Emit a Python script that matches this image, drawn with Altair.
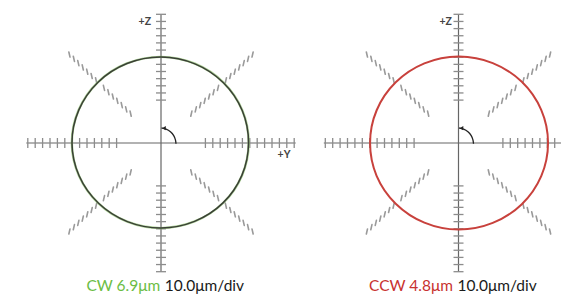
import altair as alt
import pandas as pd
import numpy as np

# ---------------- data (in divisions, 1 div = 10.0 µm) ----------------
result_labels = ["CW 6.9μm", "CCW 4.8μm"]
result_colors = ["#6cbd45", "#c8322f"]
scale_label = "10.0μm/div"

trace_angles = [0, 22.5, 45, 67.5, 90, 112.5, 135, 157.5,
                180, 202.5, 225, 247.5, 270, 292.5, 315, 337.5]
cw_radii = [11.85, 11.9, 11.95, 12.0, 12.05, 12.05, 12.05, 12.05,
            12.05, 12.0, 11.95, 11.92, 11.9, 11.88, 11.87, 11.85]
cw_radii_dark = [11.83, 11.88, 11.93, 11.98, 12.03, 12.03, 12.03, 12.03,
                 12.03, 11.98, 11.93, 11.9, 11.88, 11.86, 11.85, 11.83]
ccw_radii = [12.1, 12.1, 12.1, 12.1, 12.1, 12.05, 12.0, 11.97,
             11.95, 11.98, 12.0, 12.05, 12.1, 12.1, 12.1, 12.1]

axis_tick_r = [6, 7, 8, 9, 10, 11, 12, 13, 14, 15, 16, 17, 18]
diag_inner_r = [5.8, 6.65, 7.5, 8.35, 9.2, 10.05, 10.9]
diag_outer_r = [12.4, 13.25, 14.1, 14.95, 15.8, 16.65, 17.5]
diag_dirs = [45, 135, 225, 315]
axis_len = 18.2

# ---------------- geometry helpers ----------------
PX_X = 7.4   # pixels per division, horizontal
PX_Y = 7.15  # pixels per division, vertical
H = 286

def build_panel(idx, width, center_px, radii_sets, show_y, zx, cap_shift):
    xdom = [-center_px / PX_X, (width - center_px) / PX_X]
    ydom = [-(H - 135) / PX_Y, 135 / PX_Y]
    xs = alt.Scale(domain=xdom, nice=False, zero=False)
    ys = alt.Scale(domain=ydom, nice=False, zero=False)
    X = lambda f="x": alt.X(f"{f}:Q", scale=xs, axis=None)
    Y = lambda f="y": alt.Y(f"{f}:Q", scale=ys, axis=None)

    # main axes
    axes = pd.DataFrame({"x": [-axis_len, 0], "x2": [axis_len, 0],
                         "y": [0, -18], "y2": [0, 18]})
    axis_layer = alt.Chart(axes).mark_rule(color="#666", strokeWidth=1.2, clip=True).encode(
        x=X(), x2="x2:Q", y=Y(), y2="y2:Q")

    # axis ticks
    rows = []
    hx = 5 / PX_X
    hy = 5 / PX_Y
    for r in axis_tick_r:
        for s in (-1, 1):
            rows.append({"x": s * r, "x2": s * r, "y": -hy, "y2": hy})
            rows.append({"x": -hx, "x2": hx, "y": s * r, "y2": s * r})
    ticks = pd.DataFrame(rows)
    tick_layer = alt.Chart(ticks).mark_rule(color="#8c8c8c", strokeWidth=1.3, clip=True).encode(
        x=X(), x2="x2:Q", y=Y(), y2="y2:Q")

    # diagonal ticks
    drows = []
    for d in diag_dirs:
        th = np.radians(d)
        tilt = 32 if d in (45, 225) else -32
        st = np.radians(d + tilt)
        for r in diag_inner_r + diag_outer_r:
            cx, cy = r * np.cos(th), r * np.sin(th)
            dx = 2.6 * np.cos(st) / PX_X
            dy = 2.6 * np.sin(st) / PX_Y
            drows.append({"x": cx - dx, "x2": cx + dx, "y": cy - dy, "y2": cy + dy})
    dticks = pd.DataFrame(drows)
    dtick_layer = alt.Chart(dticks).mark_rule(color="#9a9a9a", strokeWidth=1.6,
                                              strokeCap="round", clip=True).encode(
        x=X(), x2="x2:Q", y=Y(), y2="y2:Q")

    layers = [axis_layer, tick_layer, dtick_layer]

    # traces
    for radii, color, w, op in radii_sets:
        a = np.radians(trace_angles)
        df = pd.DataFrame({"x": np.array(radii) * np.cos(a),
                           "y": np.array(radii) * np.sin(a),
                           "o": range(len(radii))})
        layers.append(alt.Chart(df).mark_line(
            interpolate="cardinal-closed", color=color, strokeWidth=w, opacity=op).encode(
            x=X(), y=Y(), order="o:Q"))

    # rotation arrow
    arc_deg = [88, 70, 50, 30, 12, -3]
    arc = pd.DataFrame({"x": [15 * np.cos(np.radians(t)) / PX_X for t in arc_deg],
                        "y": [15 * np.sin(np.radians(t)) / PX_Y for t in arc_deg],
                        "o": range(len(arc_deg))})
    layers.append(alt.Chart(arc).mark_line(interpolate="basis", color="#222", strokeWidth=1.3).encode(
        x=X(), y=Y(), order="o:Q"))
    head = pd.DataFrame({"x": [0.4], "y": [2.07]})
    layers.append(alt.Chart(head).mark_point(shape="triangle-left", filled=True, size=18,
                                             color="#222", opacity=1).encode(x=X(), y=Y()))

    # axis labels
    lab = [{"x": zx, "y": 16.9, "t": "+Z"}]
    if show_y:
        lab.append({"x": 17.5, "y": -1.7, "t": "+Y"})
    labs = pd.DataFrame(lab)
    layers.append(alt.Chart(labs).mark_text(font="Lato", fontWeight="bold", fontSize=10.5,
                                            color="#444", align="right", baseline="middle").encode(
        x=X(), y=Y(), text="t:N"))

    # caption
    cap1 = pd.DataFrame({"x": [-0.45 + cap_shift], "y": [-20.7], "t": [result_labels[idx]]})
    cap2 = pd.DataFrame({"x": [0.15 + cap_shift], "y": [-20.7], "t": [scale_label]})
    layers.append(alt.Chart(cap1).mark_text(font="Lato", fontSize=15.5, color=result_colors[idx],
                                            align="right", baseline="alphabetic").encode(
        x=X(), y=Y(), text="t:N"))
    layers.append(alt.Chart(cap2).mark_text(font="Lato", fontSize=15.5, color="#1a1a1a",
                                            align="left", baseline="alphabetic").encode(
        x=X(), y=Y(), text="t:N"))

    return alt.layer(*layers).properties(width=width, height=H)


left = build_panel(0, 290, 153, [(cw_radii, "#8fc46e", 2.4, 0.7), (cw_radii_dark, "#3a3f36", 1.5, 1)],
                   True, -1.35, 0.35)
right = build_panel(1, 263, 160.5, [(ccw_radii, "#c8413c", 2.0, 1)], False, -0.9, -0.3)

chart = alt.hconcat(left, right, spacing=0).properties(padding=0).configure_view(stroke=None)
chart.save("out.html", embed_options={"renderer": "svg", "actions": False})
